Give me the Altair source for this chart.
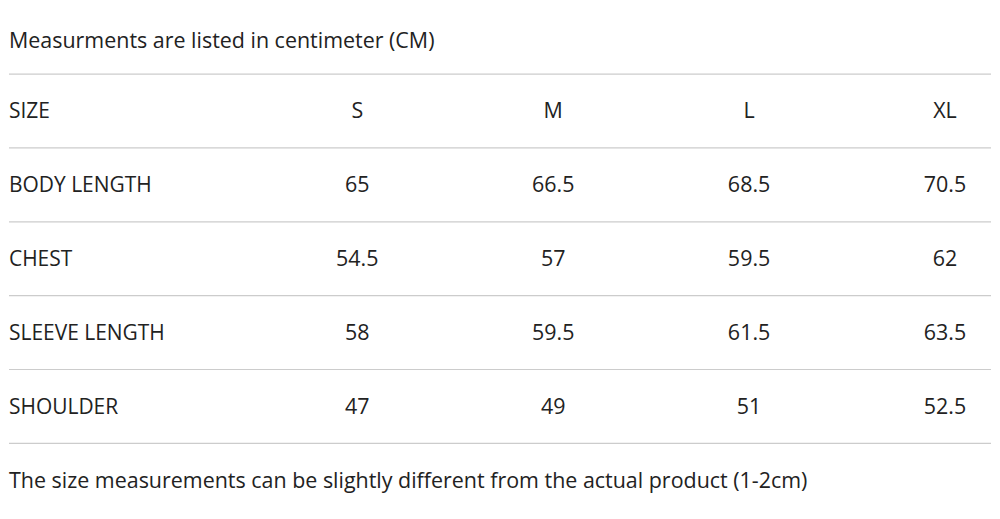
import altair as alt
import pandas as pd

title_text = "Measurments are listed in centimeter (CM)"
footer_text = "The size measurements can be slightly different from the actual product (1-2cm)"
sizes = ["S", "M", "L", "XL"]
measures = ["BODY LENGTH", "CHEST", "SLEEVE LENGTH", "SHOULDER"]
body_length = ["65", "66.5", "68.5", "70.5"]
chest = ["54.5", "57", "59.5", "62"]
sleeve_length = ["58", "59.5", "61.5", "63.5"]
shoulder = ["47", "49", "51", "52.5"]
values = [body_length, chest, sleeve_length, shoulder]

W, H = 984, 503
X0, X1 = -0.778, 4.235
Y0, Y1 = -0.378, 6.419

cells = []
cells.append({"c": X0, "r": 1, "t": "SIZE", "left": True})
for j, s in enumerate(sizes):
    cells.append({"c": j + 1, "r": 1, "t": s, "left": False})
for i, m in enumerate(measures):
    cells.append({"c": X0, "r": i + 2, "t": m, "left": True})
    for j, v in enumerate(values[i]):
        cells.append({"c": j + 1, "r": i + 2, "t": v, "left": False})
cells_df = pd.DataFrame(cells)

notes_df = pd.DataFrame([
    {"c": X0, "r": 0.05, "t": title_text},
    {"c": X0, "r": 6.0, "t": footer_text},
])

rules_df = pd.DataFrame({"r": [0.51, 1.51, 2.51, 3.51, 4.51, 5.51], "x0": X0, "x1": X1})

xs = alt.Scale(domain=[X0, X1], nice=False, zero=False)
ys = alt.Scale(domain=[Y0, Y1], nice=False, zero=False, reverse=True)
FONT = "Open Sans"
TC = "#222222"
FS = 21.5
DY = 2

rules = alt.Chart(rules_df).mark_rule(color="#cccccc", strokeWidth=1.2).encode(
    x=alt.X("x0:Q", scale=xs, axis=None),
    x2="x1:Q",
    y=alt.Y("r:Q", scale=ys, axis=None),
)

left_text = alt.Chart(cells_df[cells_df["left"]]).mark_text(
    align="left", baseline="middle", font=FONT, fontSize=FS - 0.5, color=TC, dy=DY
).encode(
    x=alt.X("c:Q", scale=xs, axis=None),
    y=alt.Y("r:Q", scale=ys, axis=None),
    text="t:N",
)

center_text = alt.Chart(cells_df[~cells_df["left"]]).mark_text(
    align="center", baseline="middle", font=FONT, fontSize=FS, color=TC, dy=DY
).encode(
    x=alt.X("c:Q", scale=xs, axis=None),
    y=alt.Y("r:Q", scale=ys, axis=None),
    text="t:N",
)

notes = alt.Chart(notes_df).mark_text(
    align="left", baseline="middle", font=FONT, fontSize=FS, color=TC, dy=DY
).encode(
    x=alt.X("c:Q", scale=xs, axis=None),
    y=alt.Y("r:Q", scale=ys, axis=None),
    text="t:N",
)

chart = alt.layer(rules, left_text, center_text, notes).properties(
    width=W, height=H, padding=0
).configure(
    background="white", view=alt.ViewConfig(stroke=None)
)

chart.save("out.html", embed_options={"renderer": "svg", "actions": False})
